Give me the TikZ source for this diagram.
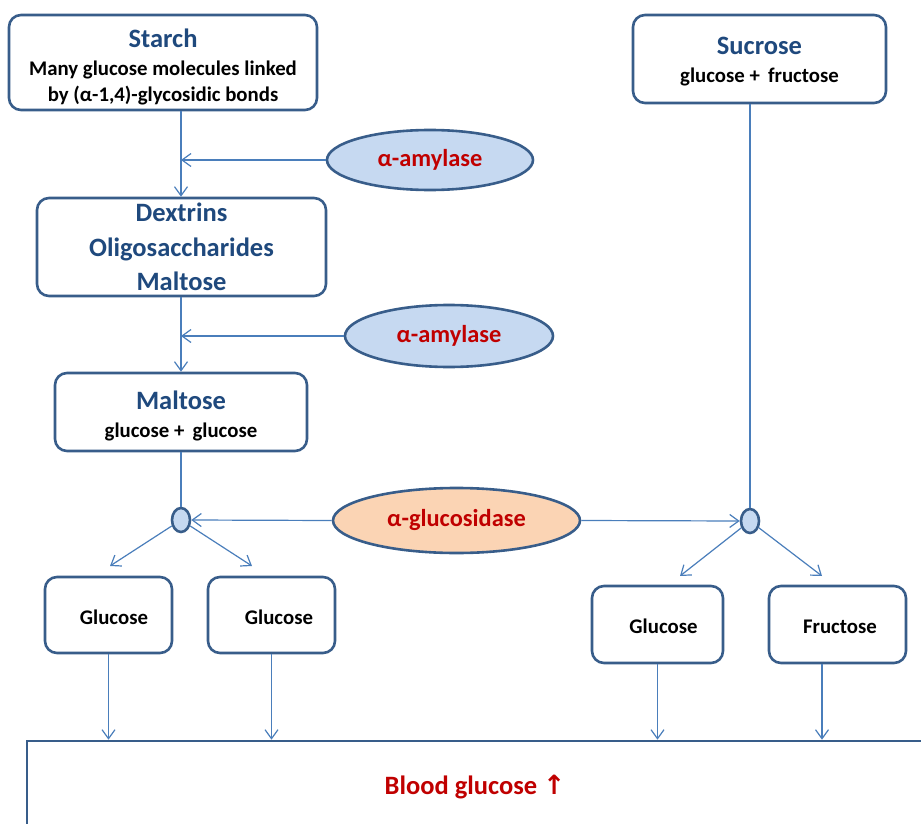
\documentclass[tikz,border=0pt]{standalone}
\usepackage{fontspec}
\setmainfont{Carlito}
\newfontfamily\arrowfont{DejaVu Sans}
\usetikzlibrary{positioning,arrows.meta,shapes.geometric}
\definecolor{boxline}{RGB}{56,93,138}
\definecolor{flowblue}{RGB}{74,126,187}
\definecolor{ttlblue}{RGB}{31,73,125}
\definecolor{enzred}{RGB}{192,0,0}
\definecolor{paleblue}{RGB}{198,217,241}
\definecolor{palepeach}{RGB}{251,212,180}
\tikzset{
  sbox/.style={draw=boxline,line width=2.6pt,rounded corners=12pt,fill=white,inner sep=0pt,align=center},
  enz/.style={ellipse,draw=boxline,line width=2.6pt,fill=paleblue,inner sep=0pt,text=enzred,font=\fontsize{24.4}{28}\selectfont\bfseries},
  jn/.style={ellipse,draw=boxline,line width=2.6pt,fill=paleblue,minimum width=18pt,minimum height=24pt,inner sep=0pt},
  flow/.style={flowblue,line width=1.2pt,-{Straight Barb[length=9pt,width=13pt]}},
  ttl/.style={font=\fontsize{26.5}{34.5}\selectfont\bfseries,text=ttlblue,align=center},
  sub/.style={font=\fontsize{20.8}{26}\selectfont\bfseries,align=center},
  small/.style={font=\fontsize{20.8}{24}\selectfont\bfseries,text height=18.5pt,text depth=0pt}
}
\begin{document}
\begin{tikzpicture}[x=1pt,y=-1pt]
      \useasboundingbox (0,0) rectangle (921,824);
      \node[sbox,minimum width=308pt,minimum height=95pt] (starch) at (163,62.5) {};
      \node[ttl] (starchT) at (163,38) {Starch};
      \node[sub] (starchS) at (163,83) {Many glucose molecules linked\\by (α-1,4)-glycosidic bonds};
      \node[sbox,ttl,minimum width=289pt,minimum height=98pt] (dextrin) at (181.5,247) {Dextrins\\Oligosaccharides\\Maltose};
      \node[sbox,minimum width=252pt,minimum height=78pt] (maltose) at (181,412) {};
      \node[ttl] (maltoseT) at (181,400) {Maltose};
      \node[sub] (maltoseS) at (181,432) {glucose + \,glucose};
      \node[sbox,minimum width=253pt,minimum height=88pt] (sucrose) at (759.5,59) {};
      \node[ttl] (sucroseT) at (759.5,46) {Sucrose};
      \node[sub] (sucroseS) at (759.5,77) {glucose + \,fructose};
      \node[enz,minimum width=206pt,minimum height=60pt] (amy1) at (430,160) {α-amylase};
      \node[enz,minimum width=208pt,minimum height=62pt] (amy2) at (449,336) {α-amylase};
      \node[enz,fill=palepeach,minimum width=247pt,minimum height=65pt] (gluc) at (456.5,520.5) {α-glucosidase};
      \node[jn] (jL) at (181,520) {};
      \node[jn] (jR) at (750,521) {};
      \node[sbox,small,minimum width=127pt,minimum height=76pt] (g1) at (108.5,615) {\hspace*{11pt}Glucose};
      \node[sbox,small,minimum width=127pt,minimum height=76pt] (g2) at (271.5,615) {\hspace*{15pt}Glucose};
      \node[sbox,small,minimum width=131pt,minimum height=77pt] (g3) at (657.5,624.5) {\hspace*{12pt}Glucose};
      \node[sbox,small,minimum width=137pt,minimum height=77pt] (fru) at (837.5,624.5) {\hspace*{5pt}Fructose};
      \begin{scope}
        \clip (0,0) rectangle (921,824);
        \node[sbox,rounded corners=0pt,minimum width=946pt,minimum height=118pt] (blood) at (500,800) {};
      \end{scope}
      \node[font=\fontsize{26.5}{30}\selectfont\bfseries,text=enzred] (bloodT) at (475,787) {Blood glucose {\arrowfont ↑}};
      \coordinate (a1) at (110,566);
      \coordinate (a2) at (252,566);
      \coordinate (a3) at (680,576);
      \coordinate (a4) at (822,576);
      \draw[flow] (starch.south -| jL) -- (dextrin.north -| jL);
      \draw[flow] (amy1.west) -- (amy1.west -| jL);
      \draw[flow] (dextrin.south -| jL) -- (maltose.north -| jL);
      \draw[flow] (amy2.west) -- (amy2.west -| jL);
      \draw[flow,-] (maltose.south -| jL) -- (jL.north);
      \draw[flow] (gluc.west) -- (jL.east);
      \draw[flow] (gluc.east) -- (jR.west);
      \draw[flow,-] (sucrose.south -| jR) -- (jR.north);
      \foreach \t in {a1,a2} \draw[flow] (jL) -- (\t);
      \foreach \t in {a3,a4} \draw[flow] (jR) -- (\t);
      \draw[flow] (g1.south) -- (g1.south |- blood.north);
      \draw[flow] (g2.south) -- (g2.south |- blood.north);
      \draw[flow] (g3.south) -- (g3.south |- blood.north);
      \draw[flow] (fru.south -| a4) -- (blood.north -| a4);
    \end{tikzpicture}
\end{document}
